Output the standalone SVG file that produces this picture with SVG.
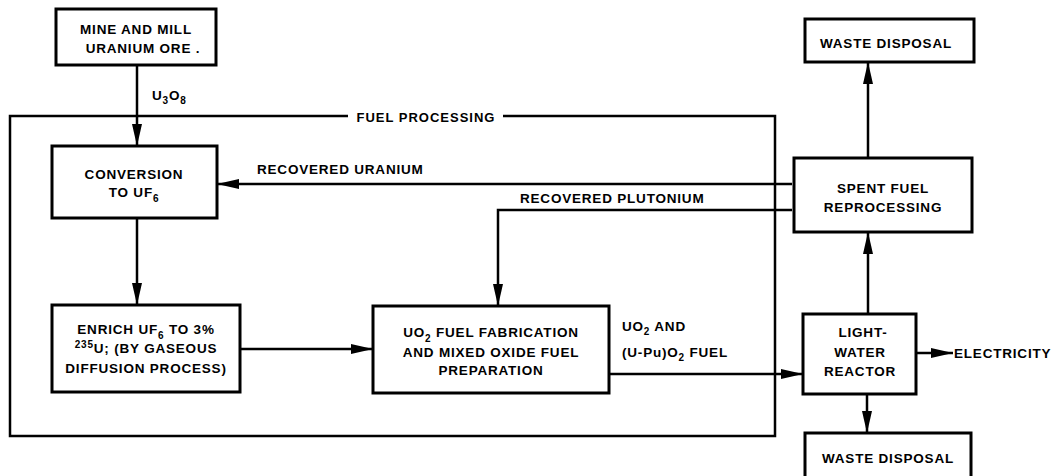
<svg xmlns="http://www.w3.org/2000/svg" width="1059" height="476" viewBox="0 0 1059 476">
<style>
.box{fill:#fff;stroke:#000;stroke-width:3}
.ln{fill:none;stroke:#000;stroke-width:2.5}
text{font-family:"Liberation Sans",Arial,sans-serif;font-weight:bold;font-size:13.5px;letter-spacing:0.8px;fill:#000}
.c{text-anchor:middle}
.s{font-size:10px}
</style>
<defs>
<marker id="ah" markerUnits="userSpaceOnUse" markerWidth="24" markerHeight="12" refX="22" refY="5" orient="auto">
<path d="M0,0 L22,5 L0,10 z" fill="#000"/>
</marker>
</defs>
<rect width="1059" height="476" fill="#fff"/>
<g id="fuel-processing">
<path class="ln" d="M348,116 H10 V436 H775 V116 H503"/>
<text x="426" y="122" class="c" style="font-size:13px;letter-spacing:1px">FUEL PROCESSING</text>
</g>
<g id="connectors">
<path class="ln" d="M137,65 V146" marker-end="url(#ah)"/>
<path class="ln" d="M137,218 V305" marker-end="url(#ah)"/>
<path class="ln" d="M240,349 H373" marker-end="url(#ah)"/>
<path class="ln" d="M609,374 H803" marker-end="url(#ah)"/>
<path class="ln" d="M792,184 H217" marker-end="url(#ah)"/>
<path class="ln" d="M792,210 H498 V306" marker-end="url(#ah)"/>
<path class="ln" d="M868,158 V62" marker-end="url(#ah)"/>
<path class="ln" d="M868,314 V232" marker-end="url(#ah)"/>
<path class="ln" d="M867,394 V433" marker-end="url(#ah)"/>
<path class="ln" d="M916,353 H953" marker-end="url(#ah)"/>
<text x="152" y="100">U<tspan class="s" dy="4">3</tspan><tspan dy="-4">O</tspan><tspan class="s" dy="4">8</tspan></text>
<text x="257" y="174">RECOVERED URANIUM</text>
<text x="520" y="203">RECOVERED PLUTONIUM</text>
<text x="622" y="331">UO<tspan class="s" dy="4">2</tspan><tspan dy="-4"> AND</tspan></text>
<text x="622" y="357">(U-Pu)O<tspan class="s" dy="4">2</tspan><tspan dy="-4"> FUEL</tspan></text>
<text x="954" y="358">ELECTRICITY</text>
</g>
<g id="mine">
<rect class="box" x="56" y="9" width="160" height="56"/>
<text x="136" y="34" class="c">MINE AND MILL</text>
<text x="143" y="53" class="c">URANIUM ORE .</text>
</g>
<g id="conversion">
<rect class="box" x="52" y="146" width="165" height="72"/>
<text x="134" y="179" class="c">CONVERSION</text>
<text x="134" y="197" class="c">TO UF<tspan class="s" dy="5">6</tspan></text>
</g>
<g id="enrich">
<rect class="box" x="52" y="305" width="188" height="87"/>
<text x="146" y="334" class="c">ENRICH UF<tspan class="s" dy="5">6</tspan><tspan dy="-5"> TO 3%</tspan></text>
<text x="146" y="353" class="c"><tspan class="s" dy="-5">235</tspan><tspan dy="5">U; (BY GASEOUS</tspan></text>
<text x="146" y="373" class="c">DIFFUSION PROCESS)</text>
</g>
<g id="fabrication">
<rect class="box" x="373" y="306" width="236" height="87"/>
<text x="491" y="337" class="c">UO<tspan class="s" dy="5">2</tspan><tspan dy="-5"> FUEL FABRICATION</tspan></text>
<text x="491" y="357" class="c">AND MIXED OXIDE FUEL</text>
<text x="491" y="375" class="c">PREPARATION</text>
</g>
<g id="waste-top">
<rect class="box" x="805" y="19" width="169" height="43"/>
<text x="886" y="48" class="c">WASTE DISPOSAL</text>
</g>
<g id="reprocessing">
<rect class="box" x="794" y="158" width="178" height="74"/>
<text x="883" y="193" class="c">SPENT FUEL</text>
<text x="883" y="212" class="c">REPROCESSING</text>
</g>
<g id="reactor">
<rect class="box" x="803" y="314" width="113" height="80"/>
<text x="863" y="337" class="c">LIGHT-</text>
<text x="860" y="357" class="c">WATER</text>
<text x="860" y="376" class="c">REACTOR</text>
</g>
<g id="waste-bottom">
<rect class="box" x="805" y="433" width="166" height="60"/>
<text x="888" y="463" class="c">WASTE DISPOSAL</text>
</g>
</svg>
